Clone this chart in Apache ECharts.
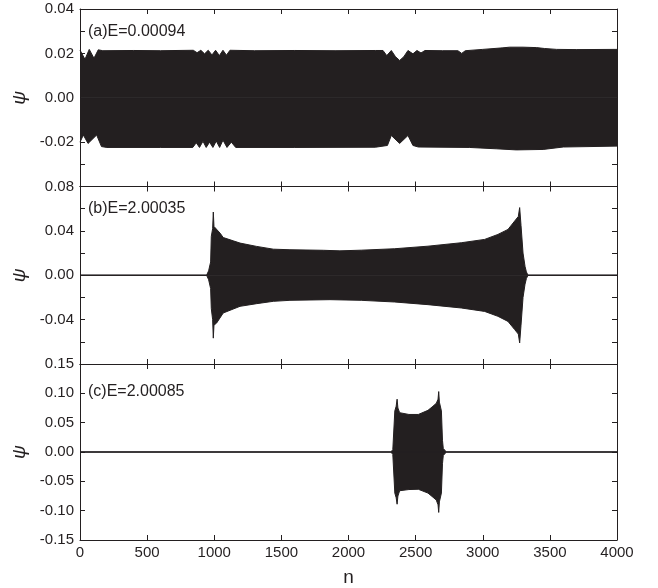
<!DOCTYPE html>
<html>
<head>
<meta charset="utf-8">
<script src="https://cdn.jsdelivr.net/npm/echarts@6/dist/echarts.min.js"></script>
<style>
  html, body { margin: 0; padding: 0; background: #fff; }
  #main { width: 658px; height: 588px; }
</style>
</head>
<body>
<div id="main"></div>
<script>
// envelope of psi(n): [n, value]
const aUpper = [
  [0, 0.0215], [12, 0.0218], [37, 0.0173], [69, 0.0218], [104, 0.0178], [136, 0.0216],
  [170, 0.0212], [400, 0.0213], [600, 0.0212], [844, 0.0214], [872, 0.0203], [900, 0.0214],
  [928, 0.0198], [955, 0.0214], [983, 0.0193], [1010, 0.0214], [1038, 0.0190], [1065, 0.0214],
  [1091, 0.0192], [1117, 0.0214], [1300, 0.0212], [1600, 0.0213], [1900, 0.0212],
  [2200, 0.0213], [2257, 0.0213], [2285, 0.0190], [2319, 0.0213], [2350, 0.0185],
  [2381, 0.0168], [2412, 0.0185], [2443, 0.0213], [2480, 0.0198], [2510, 0.0213],
  [2540, 0.0202], [2570, 0.0213], [2700, 0.0212], [2815, 0.0212], [2843, 0.0200],
  [2870, 0.0212], [3000, 0.0218], [3150, 0.0225], [3200, 0.0228], [3300, 0.0228],
  [3400, 0.0226], [3460, 0.0222], [3550, 0.0218], [3700, 0.0217], [4000, 0.0218]
];
const aLower = [
  [0, -0.0200], [25, -0.0168], [60, -0.0206], [124, -0.0168], [160, -0.0220], [200, -0.0224],
  [600, -0.0224], [840, -0.0224], [866, -0.0203], [890, -0.0224], [916, -0.0196],
  [940, -0.0224], [965, -0.0200], [990, -0.0224], [1015, -0.0195], [1040, -0.0224],
  [1065, -0.0191], [1095, -0.0224], [1127, -0.0200], [1160, -0.0224], [1600, -0.0224],
  [2200, -0.0223], [2290, -0.0215], [2319, -0.0170], [2381, -0.0206], [2443, -0.0170],
  [2480, -0.0215], [2520, -0.0222], [2900, -0.0224], [3100, -0.0230], [3250, -0.0235],
  [3450, -0.0233], [3600, -0.0222], [4000, -0.0218]
];
const bUpper = [
  [0, 0], [943, 0], [958, 0.004], [973, 0.012], [978, 0.035], [988, 0.042], [993, 0.057],
  [998, 0.044], [1010, 0.043], [1043, 0.038], [1067, 0.034], [1142, 0.031], [1192, 0.029],
  [1316, 0.026], [1440, 0.0235], [1564, 0.023], [1812, 0.0225], [1936, 0.022],
  [2095, 0.0226], [2344, 0.0239], [2592, 0.0262], [2840, 0.0293], [3014, 0.0323],
  [3113, 0.0368], [3188, 0.0413], [3238, 0.0489], [3265, 0.053], [3275, 0.061],
  [3285, 0.045], [3300, 0.020], [3315, 0.008], [3325, 0.003], [3337, 0], [4000, 0]
];
const bLower = [
  [0, 0], [943, 0], [958, -0.004], [973, -0.012], [978, -0.030], [988, -0.040], [993, -0.0567],
  [998, -0.045], [1018, -0.043], [1067, -0.034], [1192, -0.028], [1316, -0.0256],
  [1440, -0.0235], [1564, -0.0226], [1862, -0.022], [2095, -0.0226], [2344, -0.0241],
  [2592, -0.0265], [2840, -0.0295], [3014, -0.0326], [3113, -0.037], [3188, -0.0416],
  [3238, -0.049], [3265, -0.053], [3275, -0.061], [3285, -0.045], [3300, -0.020],
  [3315, -0.008], [3325, -0.003], [3337, 0], [4000, 0]
];
const cUpper = [
  [0, 0], [2315, 0], [2330, 0.004], [2342, 0.006], [2345, 0.070], [2355, 0.078], [2362, 0.090],
  [2368, 0.075], [2381, 0.067], [2450, 0.064], [2520, 0.064], [2592, 0.071], [2629, 0.078],
  [2654, 0.083], [2667, 0.090], [2672, 0.103], [2677, 0.085], [2692, 0.070], [2700, 0.020],
  [2706, 0.006], [2729, 0], [4000, 0]
];
const cLower = [
  [0, 0], [2315, 0], [2330, -0.004], [2342, -0.006], [2345, -0.070], [2355, -0.078],
  [2362, -0.089], [2368, -0.075], [2381, -0.066], [2450, -0.064], [2520, -0.0635],
  [2592, -0.070], [2629, -0.077], [2654, -0.082], [2667, -0.090], [2672, -0.103],
  [2677, -0.085], [2692, -0.070], [2700, -0.020], [2706, -0.006], [2729, 0], [4000, 0]
];
const zeroLine = [[0, 0], [4000, 0]];
const panelLabels = ['(a)E=0.00094', '(b)E=2.00035', '(c)E=2.00085'];
const yRanges = [[-0.04, 0.04, 0.02], [-0.08, 0.08, 0.04], [-0.15, 0.15, 0.05]];

const ink = '#231f20';
const font = '"Liberation Sans", Arial, sans-serif';
const gridTops = [9, 186.5, 364];
const gridH = 177.5;

const chart = echarts.init(document.getElementById('main'));

const grids = gridTops.map(t => ({ left: 80, right: 41, top: t, height: gridH }));

const xAxes = [];
const yAxes = [];
[0, 1, 2].forEach(i => {
  xAxes.push({
    type: 'value', gridIndex: i, min: 0, max: 4000, interval: 500, position: 'bottom',
    axisLine: { onZero: false, lineStyle: { color: ink, width: 1 } },
    axisTick: { inside: true, length: 5, lineStyle: { color: ink } },
    splitLine: { show: false },
    axisLabel: {
      show: i === 2, color: ink, fontSize: 15, fontFamily: font, margin: 5,
      formatter: v => String(v)
    },
    name: i === 2 ? 'n' : '', nameLocation: 'middle', nameGap: 28,
    nameTextStyle: { color: ink, fontSize: 19, fontFamily: font }
  });
});
[0, 1, 2].forEach(i => {
  xAxes.push({
    type: 'value', gridIndex: i, min: 0, max: 4000, interval: 500, position: 'top',
    axisLine: { onZero: false, lineStyle: { color: ink, width: 1 } },
    axisTick: { inside: true, length: 5, lineStyle: { color: ink } },
    splitLine: { show: false }, axisLabel: { show: false }
  });
});
[0, 1, 2].forEach(i => {
  const r = yRanges[i];
  yAxes.push({
    type: 'value', gridIndex: i, min: r[0], max: r[1], interval: r[2], position: 'left',
    axisLine: { show: true, onZero: false, lineStyle: { color: ink, width: 1 } },
    axisTick: { show: true, inside: true, length: 5, lineStyle: { color: ink } },
    minorTick: { show: i < 2, splitNumber: 2, length: 5, lineStyle: { color: ink } },
    splitLine: { show: false },
    axisLabel: {
      color: ink, fontSize: 15, fontFamily: font, margin: 6,
      showMinLabel: i === 2,
      formatter: v => v.toFixed(2)
    },
    name: 'ψ', nameLocation: 'middle', nameRotate: 90, nameGap: 48,
    nameTextStyle: { color: ink, fontSize: 19, fontStyle: 'italic', fontFamily: font }
  });
});
[0, 1, 2].forEach(i => {
  const r = yRanges[i];
  yAxes.push({
    type: 'value', gridIndex: i, min: r[0], max: r[1], interval: r[2], position: 'right',
    axisLine: { show: true, onZero: false, lineStyle: { color: ink, width: 1 } },
    axisTick: { show: true, inside: true, length: 5, lineStyle: { color: ink } },
    minorTick: { show: i < 2, splitNumber: 2, length: 5, lineStyle: { color: ink } },
    splitLine: { show: false }, axisLabel: { show: false }
  });
});

function band(data, i) {
  return {
    type: 'line', data: data, xAxisIndex: i, yAxisIndex: i,
    showSymbol: false, silent: true, clip: true,
    lineStyle: { color: ink, width: 1 },
    areaStyle: { color: ink, opacity: 1, origin: 0 }
  };
}
// thin baseline psi = 0, also covers the seam between the two filled halves
function baseline(i) {
  return {
    type: 'line', data: zeroLine, xAxisIndex: i, yAxisIndex: i,
    showSymbol: false, silent: true,
    lineStyle: { color: ink, width: 1.2 }
  };
}

const series = [
  band(aUpper, 0), band(aLower, 0), baseline(0),
  band(bUpper, 1), band(bLower, 1), baseline(1),
  band(cUpper, 2), band(cLower, 2), baseline(2)
];

const labelY = [32, 209, 392];
const graphic = panelLabels.map((t, i) => ({
  type: 'text', x: 88, y: labelY[i],
  style: { text: t, fill: ink, fontSize: 16, fontFamily: font, verticalAlign: 'middle' }
}));

chart.setOption({
  animation: false,
  backgroundColor: '#fff',
  grid: grids,
  xAxis: xAxes,
  yAxis: yAxes,
  series: series,
  graphic: graphic
});
</script>
</body>
</html>
